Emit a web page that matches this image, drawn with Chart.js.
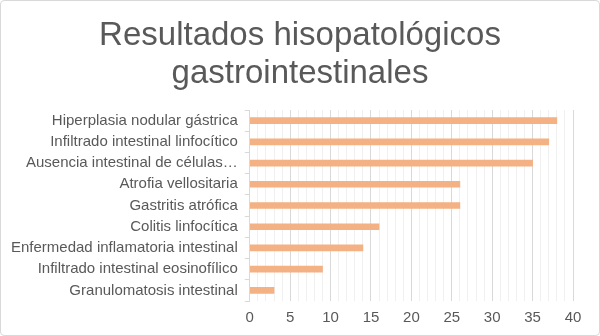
<!DOCTYPE html>
<html>
<head>
<meta charset="utf-8">
<script src="https://cdn.jsdelivr.net/npm/chart.js@4/dist/chart.umd.min.js"></script>
<style>
  html, body { margin: 0; padding: 0; background: #fff; }
  #wrap { position: relative; width: 598px; height: 334px; border: 1px solid #d9d9d9; border-radius: 4px; }
</style>
</head>
<body>
<div id="wrap"><canvas id="chart"></canvas></div>
<script>
// Hallazgos histopatológicos
const titleLines = ['Resultados hisopatológicos', 'gastrointestinales'];
const categories = [
    'Hiperplasia nodular gástrica',
    'Infiltrado intestinal linfocítico',
    'Ausencia intestinal de células…',
    'Atrofia vellositaria',
    'Gastritis atrófica',
    'Colitis linfocítica',
    'Enfermedad inflamatoria intestinal',
    'Infiltrado intestinal eosinofílico',
    'Granulomatosis intestinal'
];
const values = [38, 37, 35, 26, 26, 16, 14, 9, 3];
const xTicks = [0, 5, 10, 15, 20, 25, 30, 35, 40];

// title centred on the whole canvas, not on the plot
const pageTitle = {
    id: 'pageTitle',
    afterDraw(chart) {
        const c = chart.ctx;
        c.save();
        c.font = '33px "Liberation Sans"';
        c.fillStyle = '#595959';
        c.textAlign = 'center';
        c.textBaseline = 'middle';
        titleLines.forEach((t, i) => c.fillText(t, chart.width / 2, 35 + i * 38));
        c.restore();
    }
};

const ctx = document.getElementById('chart').getContext('2d');
new Chart(ctx, {
    type: 'bar',
    data: {
        labels: categories,
        datasets: [{
            data: values,
            backgroundColor: '#f4b183',
            barThickness: 6
        }]
    },
    options: {
        indexAxis: 'y',
        responsive: true,
        maintainAspectRatio: false,
        animation: false,
        layout: { padding: { left: 3, right: 26, top: 109, bottom: 0 } },
        plugins: {
            legend: { display: false },
            tooltip: { enabled: false }
        },
        scales: {
            x: {
                min: 0,
                max: 40,
                border: { display: false },
                grid: {
                    color: c => (c.tick.value % 5 === 0 ? '#d9d9d9' : '#f0f0f0'),
                    drawTicks: false
                },
                ticks: {
                    stepSize: 1,
                    autoSkip: false,
                    maxRotation: 0,
                    padding: 8,
                    color: '#595959',
                    font: { family: 'Liberation Sans', size: 15 },
                    callback: v => (xTicks.includes(v) ? String(v) : '')
                }
            },
            y: {
                border: { display: true, color: '#d9d9d9' },
                grid: { drawOnChartArea: false, offset: true, tickLength: 5, color: '#d9d9d9' },
                ticks: {
                    padding: 7,
                    color: '#595959',
                    font: { family: 'Liberation Sans', size: 15 }
                }
            }
        }
    },
    plugins: [pageTitle]
});
</script>
</body>
</html>
